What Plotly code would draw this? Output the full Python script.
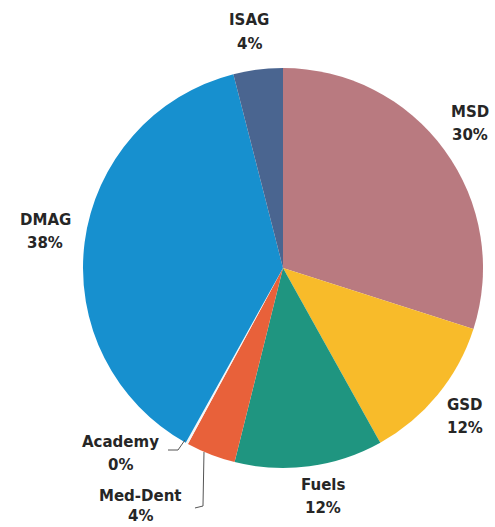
import plotly.graph_objects as go

# Share of total by organisation, clockwise from 12 o'clock
labels = ["MSD", "GSD", "Fuels", "Med-Dent", "Academy", "DMAG", "ISAG"]
values = [30, 12, 12, 4, 0.2, 38, 4]
pct_text = ["30%", "12%", "12%", "4%", "0%", "38%", "4%"]
colors = ["#b97a80", "#f8bb2a", "#1f9580", "#e8613a", "#f4f6f7", "#1790cf", "#4a6590"]

W, H = 495, 527
FONT = dict(family="DejaVu Sans", size=15, color="#262626")

fig = go.Figure(
    go.Pie(
        labels=labels,
        values=values,
        sort=False,
        direction="clockwise",
        rotation=0,
        marker=dict(colors=colors, line=dict(color="white", width=0)),
        textinfo="none",
        hoverinfo="label+percent",
        showlegend=False,
        domain=dict(x=[83 / W, 483 / W], y=[(H - 468) / H, (H - 68) / H]),
    )
)

# Caption positions: centre x, y of name line, y of percent line (pixels)
label_xy = {
    "MSD": (470, 112, 135),
    "GSD": (465, 405, 428),
    "Fuels": (323, 485, 508),
    "Med-Dent": (140, 496, 516),
    "Academy": (120, 442, 465),
    "DMAG": (45, 220, 243),
    "ISAG": (249, 20, 44),
}

annotations = []
for name, pct in zip(labels, pct_text):
    px, py_name, py_pct = label_xy[name]
    for txt, py in ((name, py_name), (pct, py_pct)):
        annotations.append(
            dict(
                x=px / W,
                y=1 - py / H,
                xref="paper",
                yref="paper",
                text=f"<b>{txt}</b>",
                showarrow=False,
                font=FONT,
                xanchor="center",
                yanchor="middle",
            )
        )

# Leader lines for the two narrow slices
def px_line(points):
    path = "M " + " L ".join(f"{x / W:.4f},{1 - y / H:.4f}" for x, y in points)
    return dict(type="path", path=path, xref="paper", yref="paper",
                line=dict(color="#555555", width=1))

shapes = [
    px_line([(168, 450), (178, 450), (185, 440)]),
    px_line([(204, 452), (203, 506), (195, 508)]),
]

fig.update_layout(
    width=W,
    height=H,
    margin=dict(l=0, r=0, t=0, b=0),
    paper_bgcolor="white",
    plot_bgcolor="white",
    annotations=annotations,
    shapes=shapes,
)

fig.write_html("out.html")
